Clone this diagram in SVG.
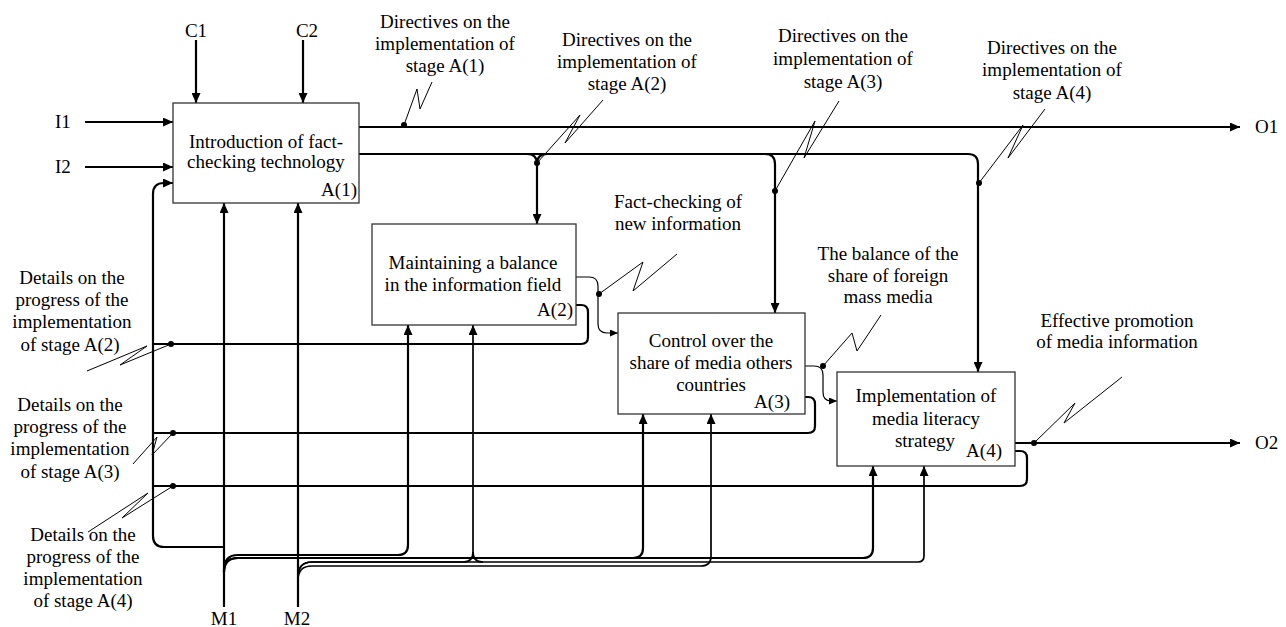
<svg xmlns="http://www.w3.org/2000/svg" width="1286" height="627" viewBox="0 0 1286 627">
<style>
.t{font-family:"Liberation Serif","Times New Roman",serif;font-size:19px;fill:#000}
.c{text-anchor:middle}
.e{text-anchor:end}
.box{fill:#fff;stroke:#333;stroke-width:1.3}
.ln{fill:none;stroke:#000;stroke-width:2.2}
.md{fill:none;stroke:#000;stroke-width:1.7}
.th{fill:none;stroke:#000;stroke-width:1.2}
.sq{fill:none;stroke:#000;stroke-width:1}
.dot{fill:#000}
</style>
<defs>
<marker id="ah" markerWidth="10" markerHeight="9" refX="10" refY="4.5" orient="auto" markerUnits="userSpaceOnUse"><path d="M0,0 L10,4.5 L0,9 z" fill="#000"/></marker>
<marker id="as" markerWidth="8" markerHeight="7" refX="8" refY="3.5" orient="auto" markerUnits="userSpaceOnUse"><path d="M0,0 L8,3.5 L0,7 z" fill="#000"/></marker>
</defs>
<rect width="1286" height="627" fill="#fff"/>

<g id="connectors">
<path class="ln" d="M196,40 L196,103" marker-end="url(#ah)"/>
<path class="ln" d="M303,40 L303,103" marker-end="url(#ah)"/>
<path class="ln" d="M85,122 L173,122" marker-end="url(#ah)"/>
<path class="ln" d="M85,167 L173,167" marker-end="url(#ah)"/>
<path class="ln" d="M359,127 L1240,127" marker-end="url(#ah)"/>
<path class="ln" d="M359,154 L968,154 Q978,154 978,164 L978,372" marker-end="url(#ah)"/>
<path class="ln" d="M527,154 Q537,154 537,164 L537,224" marker-end="url(#ah)"/>
<path class="ln" d="M547,154 Q537,154 537,164"/>
<path class="ln" d="M765,154 Q775,154 775,164 L775,313" marker-end="url(#ah)"/>
<path class="th" d="M576,277 L589,277 Q598,277 598,286 L598,324 Q598,333 607,333 L618,333" marker-end="url(#as)"/>
<path class="th" d="M805,366 L814,366 Q823,366 823,375 L823,392 Q823,401 831,401 L837,401" marker-end="url(#as)"/>
<path class="ln" d="M1015,443 L1240,443" marker-end="url(#ah)"/>
<path class="ln" d="M576,305 L581,305 Q588,305 588,312 L588,337 Q588,344 581,344 L153,344"/>
<path class="ln" d="M805,397 L808,397 Q815,397 815,404 L815,426 Q815,433 808,433 L153,433"/>
<path class="ln" d="M1015,451 L1020,451 Q1027,451 1027,458 L1027,479 Q1027,486 1020,486 L153,486"/>
<path class="ln" d="M224,547 L164,547 Q153,547 153,536 L153,194 Q153,183 164,183 L173,183" marker-end="url(#ah)"/>
<path class="ln" d="M224,607 L224,203" marker-end="url(#ah)"/>
<path class="ln" d="M298,607 L298,203" marker-end="url(#ah)"/>
<path class="ln" d="M224,570 Q224,555 238,555 L398,555 Q408,555 408,545 L408,325" marker-end="url(#ah)"/>
<path class="ln" d="M224,572 Q224,558 238,558 L633,558 Q643,558 643,548 L643,414" marker-end="url(#ah)"/>
<path class="ln" d="M224,572 Q224,558 238,558 L863,558 Q873,558 873,548 L873,466" marker-end="url(#ah)"/>
<path class="md" d="M298,577 Q298,562 312,562 L463,562 Q473,562 473,552 L473,325" marker-end="url(#ah)"/>
<path class="md" d="M298,580 Q298,566 312,566 L701,566 Q711,566 711,556 L711,414" marker-end="url(#ah)"/>
<path class="md" d="M298,577 Q298,562 312,562 L918,562 Q924,562 924,556 L924,466" marker-end="url(#ah)"/>
<path class="md" d="M483,562 Q473,562 473,552"/>
</g>

<g id="node-A1">
<rect class="box" x="173" y="103" width="186" height="100"/>
<text class="t c" x="266" y="148">Introduction of fact-</text>
<text class="t c" x="266" y="168">checking technology</text>
<text class="t e" x="357" y="196">A(1)</text>
</g>
<g id="node-A2">
<rect class="box" x="372" y="224" width="204" height="101"/>
<text class="t c" x="473" y="269">Maintaining a balance</text>
<text class="t c" x="473" y="291">in the information field</text>
<text class="t e" x="573" y="316">A(2)</text>
</g>
<g id="node-A3">
<rect class="box" x="618" y="313" width="187" height="101"/>
<text class="t c" x="711" y="347">Control over the</text>
<text class="t c" x="711" y="369">share of media others</text>
<text class="t c" x="711" y="391">countries</text>
<text class="t e" x="790" y="408">A(3)</text>
</g>
<g id="node-A4">
<rect class="box" x="837" y="372" width="178" height="94"/>
<text class="t c" x="926" y="402">Implementation of</text>
<text class="t c" x="926" y="425">media literacy</text>
<text class="t c" x="925" y="447">strategy</text>
<text class="t e" x="1002" y="457">A(4)</text>
</g>

<g id="labels">
<text class="t c" x="196" y="37">C1</text>
<text class="t c" x="307" y="37">C2</text>
<text class="t" x="55" y="128">I1</text>
<text class="t" x="55" y="173">I2</text>
<text class="t" x="1255" y="133">O1</text>
<text class="t" x="1255" y="449">O2</text>
<text class="t c" x="224" y="625">M1</text>
<text class="t c" x="297" y="625">M2</text>

<g id="lbl-dir1">
<text class="t c" x="445" y="28">Directives on the</text>
<text class="t c" x="445" y="50">implementation of</text>
<text class="t c" x="445" y="72">stage A(1)</text>
<path class="sq" d="M404,125 L417,89 L420,109 L432,82"/>
<circle class="dot" cx="404" cy="125" r="3"/>
</g>
<g id="lbl-dir2">
<text class="t c" x="627" y="46">Directives on the</text>
<text class="t c" x="627" y="68">implementation of</text>
<text class="t c" x="627" y="90">stage A(2)</text>
<path class="sq" d="M537,163 L580,115 L565,143 L603,100"/>
<circle class="dot" cx="537" cy="163" r="3"/>
</g>
<g id="lbl-dir3">
<text class="t c" x="843" y="42">Directives on the</text>
<text class="t c" x="843" y="65">implementation of</text>
<text class="t c" x="843" y="88">stage A(3)</text>
<path class="sq" d="M775,191 L815,121 L804,158 L839,101"/>
<circle class="dot" cx="775" cy="191" r="3"/>
</g>
<g id="lbl-dir4">
<text class="t c" x="1052" y="54">Directives on the</text>
<text class="t c" x="1052" y="76">implementation of</text>
<text class="t c" x="1052" y="99">stage A(4)</text>
<path class="sq" d="M979,183 L1023,125 L1008,158 L1045,109"/>
<circle class="dot" cx="979" cy="183" r="3"/>
</g>
<g id="lbl-fact">
<text class="t c" x="678" y="208">Fact-checking of</text>
<text class="t c" x="678" y="230">new information</text>
<path class="sq" d="M599,294 L643,262 L633,291 L677,254"/>
<circle class="dot" cx="599" cy="294" r="3"/>
</g>
<g id="lbl-balance">
<text class="t c" x="888" y="260">The balance of the</text>
<text class="t c" x="888" y="282">share of foreign</text>
<text class="t c" x="888" y="303">mass media</text>
<path class="sq" d="M823,366 L852,333 L857,351 L881,315"/>
<circle class="dot" cx="823" cy="366" r="3"/>
</g>
<g id="lbl-effective">
<text class="t c" x="1117" y="327">Effective promotion</text>
<text class="t c" x="1117" y="348">of media information</text>
<path class="sq" d="M1034,443 L1075,403 L1064,423 L1122,377"/>
<circle class="dot" cx="1034" cy="443" r="3"/>
</g>
<g id="lbl-det2">
<text class="t c" x="72" y="284">Details on the</text>
<text class="t c" x="72" y="306">progress of the</text>
<text class="t c" x="72" y="328">implementation</text>
<text class="t c" x="70" y="351">of stage A(2)</text>
<path class="sq" d="M171,344 L120,365 L147,346 L87,371"/>
<circle class="dot" cx="171" cy="344" r="3"/>
</g>
<g id="lbl-det3">
<text class="t c" x="70" y="411">Details on the</text>
<text class="t c" x="70" y="433">progress of the</text>
<text class="t c" x="70" y="455">implementation</text>
<text class="t c" x="70" y="478">of stage A(3)</text>
<path class="sq" d="M173,433 L152,455 L157,437 L133,464"/>
<circle class="dot" cx="173" cy="433" r="3"/>
</g>
<g id="lbl-det4">
<text class="t c" x="83" y="541">Details on the</text>
<text class="t c" x="83" y="563">progress of the</text>
<text class="t c" x="83" y="585">implementation</text>
<text class="t c" x="83" y="607">of stage A(4)</text>
<path class="sq" d="M173,486 L122,518 L148,493 L88,532"/>
<circle class="dot" cx="173" cy="486" r="3"/>
</g>
</g>
</svg>
